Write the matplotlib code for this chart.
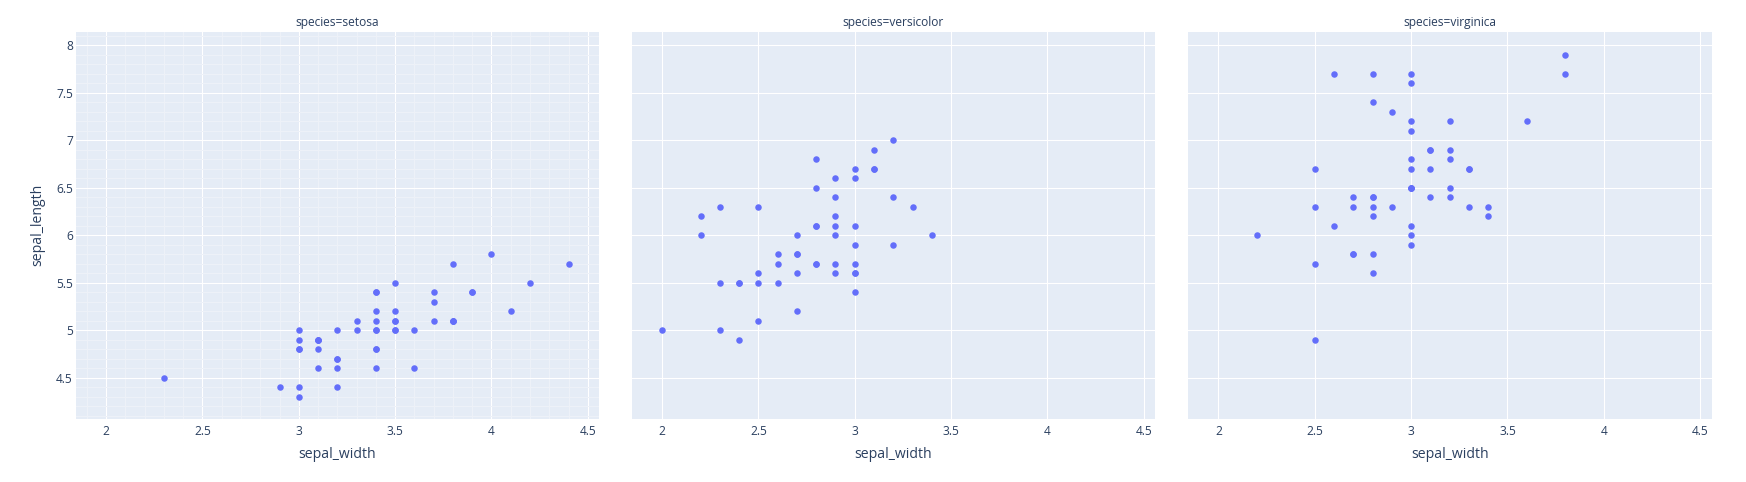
import matplotlib
matplotlib.use("Agg")
import matplotlib.pyplot as plt
from matplotlib.ticker import MultipleLocator, FixedLocator

species = ["setosa", "versicolor", "virginica"]

setosa_width = [3.5, 3.0, 3.2, 3.1, 3.6, 3.9, 3.4, 3.4, 2.9, 3.1, 3.7, 3.4, 3.0, 3.0, 4.0, 4.4, 3.9, 3.5, 3.8, 3.8,
                3.4, 3.7, 3.6, 3.3, 3.4, 3.0, 3.4, 3.5, 3.4, 3.2, 3.1, 3.4, 4.1, 4.2, 3.1, 3.2, 3.5, 3.1, 3.0, 3.4,
                3.5, 2.3, 3.2, 3.5, 3.8, 3.0, 3.8, 3.2, 3.7, 3.3]
setosa_length = [5.1, 4.9, 4.7, 4.6, 5.0, 5.4, 4.6, 5.0, 4.4, 4.9, 5.4, 4.8, 4.8, 4.3, 5.8, 5.7, 5.4, 5.1, 5.7, 5.1,
                 5.4, 5.1, 4.6, 5.1, 4.8, 5.0, 5.0, 5.2, 5.2, 4.7, 4.8, 5.4, 5.2, 5.5, 4.9, 5.0, 5.5, 4.9, 4.4, 5.1,
                 5.0, 4.5, 4.4, 5.0, 5.1, 4.8, 5.1, 4.6, 5.3, 5.0]

versicolor_width = [3.2, 3.2, 3.1, 2.3, 2.8, 2.8, 3.3, 2.4, 2.9, 2.7, 2.0, 3.0, 2.2, 2.9, 2.9, 3.1, 3.0, 2.7, 2.2, 2.5,
                    3.2, 2.8, 2.5, 2.8, 2.9, 3.0, 2.8, 3.0, 2.9, 2.6, 2.4, 2.4, 2.7, 2.7, 3.0, 3.4, 3.1, 2.3, 3.0, 2.5,
                    2.6, 3.0, 2.6, 2.3, 2.7, 3.0, 2.9, 2.9, 2.5, 2.8]
versicolor_length = [7.0, 6.4, 6.9, 5.5, 6.5, 5.7, 6.3, 4.9, 6.6, 5.2, 5.0, 5.9, 6.0, 6.1, 5.6, 6.7, 5.6, 5.8, 6.2, 5.6,
                     5.9, 6.1, 6.3, 6.1, 6.4, 6.6, 6.8, 6.7, 6.0, 5.7, 5.5, 5.5, 5.8, 6.0, 5.4, 6.0, 6.7, 6.3, 5.6, 5.5,
                     5.5, 6.1, 5.8, 5.0, 5.6, 5.7, 5.7, 6.2, 5.1, 5.7]

virginica_width = [3.3, 2.7, 3.0, 2.9, 3.0, 3.0, 2.5, 2.9, 2.5, 3.6, 3.2, 2.7, 3.0, 2.5, 2.8, 3.2, 3.0, 3.8, 2.6, 2.2,
                   3.2, 2.8, 2.8, 2.7, 3.3, 3.2, 2.8, 3.0, 2.8, 3.0, 2.8, 3.8, 2.8, 2.8, 2.6, 3.0, 3.4, 3.1, 3.0, 3.1,
                   3.1, 3.1, 2.7, 3.2, 3.3, 3.0, 2.5, 3.0, 3.4, 3.0]
virginica_length = [6.3, 5.8, 7.1, 6.3, 6.5, 7.6, 4.9, 7.3, 6.7, 7.2, 6.5, 6.4, 6.8, 5.7, 5.8, 6.4, 6.5, 7.7, 7.7, 6.0,
                    6.9, 5.6, 7.7, 6.3, 6.7, 7.2, 6.2, 6.1, 6.4, 7.2, 7.4, 7.9, 6.4, 6.3, 6.1, 7.7, 6.3, 6.4, 6.0, 6.9,
                    6.7, 6.9, 5.8, 6.8, 6.7, 6.7, 6.3, 6.5, 6.2, 5.9]

x_ticks = [2, 2.5, 3, 3.5, 4, 4.5]
x_tick_labels = ["2", "2.5", "3", "3.5", "4", "4.5"]
y_ticks = [4.5, 5, 5.5, 6, 6.5, 7, 7.5, 8]
y_tick_labels = ["4.5", "5", "5.5", "6", "6.5", "7", "7.5", "8"]

widths = [setosa_width, versicolor_width, virginica_width]
lengths = [setosa_length, versicolor_length, virginica_length]

W, H = 1746, 482
DPI = 100
PX = 72.0 / DPI
TEXT = "#2a3f5f"
BG = "#E5ECF6"
MARK = "#636efa"
plt.rcParams["font.family"] = ["Open Sans", "DejaVu Sans"]

fig = plt.figure(figsize=(W / DPI, H / DPI), dpi=DPI)

lefts = [75.7, 631.6, 1188.0]
pw = 523.5
top, bottom = 31.7, 419.0

for i, sp in enumerate(species):
    ax = fig.add_axes([lefts[i] / W, 1 - bottom / H, pw / W, (bottom - top) / H])
    ax.set_facecolor(BG)
    for s in ax.spines.values():
        s.set_visible(False)
    ax.set_xlim(1.842, 4.559)
    ax.set_ylim(4.065, 8.14)
    ax.xaxis.set_major_locator(FixedLocator(x_ticks))
    ax.set_xticklabels(x_tick_labels)
    ax.yaxis.set_major_locator(FixedLocator(y_ticks))
    ax.tick_params(axis="both", length=0, labelsize=12 * PX, labelcolor=TEXT)
    ax.tick_params(axis="x", pad=4)
    ax.tick_params(axis="y", pad=2)
    if i == 0:
        ax.xaxis.set_minor_locator(MultipleLocator(0.1))
        ax.yaxis.set_minor_locator(MultipleLocator(0.1))
        ax.tick_params(which="minor", length=0)
        ax.grid(True, which="minor", color="#EDF1F8", linewidth=1 * PX, zorder=0)
        ax.set_yticklabels(y_tick_labels)
        ax.set_ylabel("sepal_length", fontsize=14 * PX, color=TEXT, labelpad=8)
    else:
        ax.set_yticklabels([])
    ax.grid(True, which="major", color="white", linewidth=1.1 * PX, zorder=0.5)
    ax.set_axisbelow(True)
    ax.set_xlabel("sepal_width", fontsize=14 * PX, color=TEXT, labelpad=7)
    ax.scatter(widths[i], lengths[i], s=(6.5 * PX) ** 2, color=MARK, linewidths=0, zorder=3)
    ax.set_title("species=" + sp, fontsize=12 * PX, color=TEXT, pad=4)

fig.savefig("out.png", dpi=DPI, facecolor="white")
